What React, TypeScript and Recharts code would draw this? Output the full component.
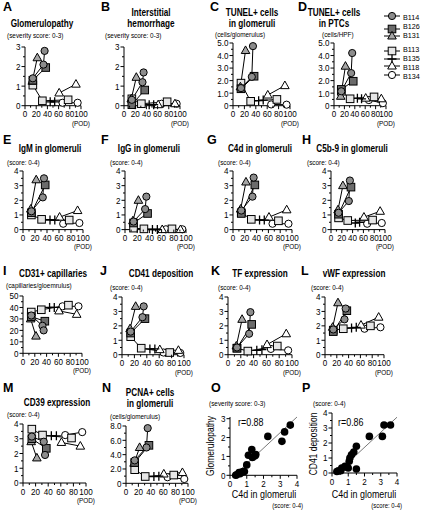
import React from 'react';
import { LineChart, Line, XAxis, YAxis, ComposedChart, Scatter } from 'recharts';

const FONT = 'Arial, "Liberation Sans", Helvetica, sans-serif';

// ---------- animals / legend ----------
const animals = ['B114', 'B126', 'B131', 'B113', 'B135', 'B118', 'B134'];
const shapes = ['circle', 'square', 'triangle', 'square', 'plus', 'triangle', 'circle'];
const fills = ['#8c8c8c', '#6b6b6b', '#a6a6a6', '#e6e6e6', '#000000', '#ffffff', '#ffffff'];

// ---------- biopsy days (POD) per animal ----------
const podB114 = [14, 33, 35];
const podB126 = [14, 37];
const podB131 = [13, 22];
const podB113 = [14, 31, 77];
const podB135 = [45, 53];
const podB118 = [61, 91];
const podB134 = [67, 94];
const pods = [podB114, podB126, podB131, podB113, podB135, podB118, podB134];

// ---------- panel values (animal order as above) ----------
const glomerulopathy = [[1.4, 2.1, 2.8], [1.3, 1.95], [1.25, 2.45], [1.05, 0.25, 0.3], [0.2, 0.2], [0.65, 1.1], [0.15, 0.15]];
const hemorrhage = [[0.3, 1.2, 1.7], [0.05, 0.8], [0.35, 1.45], [0.35, 0.1, 0.2], [0.05, 0.05], [0.05, 0.1], [0.1, 0.1]];
const tunelGlom = [[1.4, 2.3, 4.75], [1.35, 2.35], [1.5, 4.4], [1.8, 0.35, 0.5], [0.4, 0.45], [0.85, 1.6], [0.1, 0.08]];
const tunelPTC = [[1.15, 2.6, 4.2], [1.3, 1.95], [0.75, 3.15], [1.15, 0.55, 0.7], [0.6, 0.55], [0.6, 0.55], [0.45, 0.2]];
const igm = [[1.25, 2.2, 3.5], [1.15, 3.05], [1.4, 3.4], [1.0, 0.7, 0.65], [0.65, 0.65], [0.85, 1.3], [0.4, 0.45]];
const igg = [[0.55, 1.4, 2.25], [0.45, 1.1], [0.6, 2.0], [0.1, 0.05, 0.05], [0.0, 0.0], [0.0, 0.0], [0.02, 0.02]];
const c4d = [[1.3, 2.25, 3.55], [1.1, 3.05], [1.4, 3.25], [1.15, 0.7, 0.6], [0.65, 0.65], [0.85, 1.35], [0.4, 0.4]];
const c5b9 = [[1.15, 1.95, 3.35], [1.05, 2.9], [1.35, 3.0], [0.8, 0.62, 0.65], [0.45, 0.5], [0.85, 1.25], [0.4, 0.45]];
const cd31 = [[33, 24, 20], [32, 28], [30, 15], [36, 38, 42], [40, 40], [37, 34], [41, 41]];
const cd41 = [[1.6, 2.6, 3.35], [1.5, 2.5], [1.8, 3.35], [1.25, 0.45, 0.15], [0.4, 0.4], [0.35, 0.3], [0.15, 0.12]];
const tf = [[0.5, 1.45, 2.95], [0.45, 2.1], [0.6, 2.45], [0.45, 0.25, 0.6], [0.3, 0.35], [0.7, 1.45], [0.4, 0.3]];
const vwf = [[1.75, 2.45, 3.2], [1.6, 3.05], [1.9, 3.6], [1.7, 1.8, 2.0], [1.85, 1.9], [2.05, 2.6], [1.8, 1.9]];
const cd39 = [[3.15, 2.8, 1.9], [3.0, 2.35], [2.8, 1.7], [3.65, 3.25, 3.05], [3.2, 3.2], [2.75, 2.5], [3.25, 3.45]];
const pcna = [[3.2, 5.0, 7.7], [2.9, 5.3], [2.8, 5.0], [1.9, 0.95, 1.15], [0.95, 1.0], [1.3, 1.5], [0.85, 0.6]];

// ---------- correlation panels ----------
const c4dO = [3.6, 3.26, 3.1, 2.26, 1.3, 1.1, 1.5, 1.34, 1.54, 1.0, 0.8, 0.7, 0.54, 0.4, 0.34, 0.6, 0.86];
const glomO = [2.66, 2.3, 1.8, 2.06, 1.37, 1.06, 1.03, 0.94, 1.1, 0.55, 0.2, 0.17, 0.14, 0.03, 0.0, 0.08, 0.2];
const c4dP = [3.6, 3.2, 3.1, 2.3, 1.5, 1.34, 1.2, 1.1, 1.06, 1.5, 1.0, 0.8, 0.6, 0.4, 0.3, 0.54, 0.9];
const cd41P = [3.2, 3.2, 2.44, 2.44, 1.78, 1.4, 1.22, 1.0, 0.78, 0.27, 0.33, 0.44, 0.33, 0.15, 0.1, 0.15, 0.4];
const regO = [0.826, -0.215]; // slope, intercept
const regP = [1.005, -0.3];

// ---------- helpers ----------
const range = (a: number, b: number, s: number) => {
  const out: number[] = [];
  for (let v = a; v <= b + 1e-9; v += s) out.push(Math.round(v * 1000) / 1000);
  return out;
};
const isMult = (v: number, s: number) => Math.abs(v / s - Math.round(v / s)) < 1e-6;

function T({ x, y, children, size = 9, weight = 'normal', anchor = 'start', sx = 0.82, rot = 0 }: any) {
  return (
    <text
      transform={`translate(${x},${y})${rot ? ` rotate(${rot})` : ''} scale(${sx},1)`}
      fontSize={size}
      fontWeight={weight}
      textAnchor={anchor}
      fontFamily={FONT}
      fill="#000"
    >
      {children}
    </text>
  );
}

function Glyph({ shape, fill, cx, cy }: any) {
  if (cx == null || cy == null) return null;
  if (shape === 'circle') return <circle cx={cx} cy={cy} r={3.6} fill={fill} stroke="#000" strokeWidth={1} />;
  if (shape === 'square') return <rect x={cx - 3.8} y={cy - 3.8} width={7.6} height={7.6} fill={fill} stroke="#000" strokeWidth={1} />;
  if (shape === 'triangle')
    return <polygon points={`${cx},${cy - 4.6} ${cx + 4.3},${cy + 3} ${cx - 4.3},${cy + 3}`} fill={fill} stroke="#000" strokeWidth={1} />;
  return <path d={`M${cx - 4.5},${cy}H${cx + 4.5}M${cx},${cy - 4.5}V${cy + 4.5}`} stroke="#000" strokeWidth={1.3} fill="none" />;
}

const xTick = (every: number, fmt: (v: number) => string) => (p: any) => {
  const v = p.payload.value;
  const major = isMult(v, every);
  return (
    <g key={`xt-${v}`}>
      <line x1={p.x} x2={p.x} y1={p.y} y2={p.y + (major ? 3.5 : 2)} stroke="#000" strokeWidth={1} />
      {major && (
        <T x={p.x} y={p.y + 11.5} size={9.5} anchor="middle" sx={0.85}>
          {fmt(v)}
        </T>
      )}
    </g>
  );
};
const yTick = (every: number, fmt: (v: number) => string) => (p: any) => {
  const v = p.payload.value;
  const major = isMult(v, every);
  return (
    <g key={`yt-${v}`}>
      <line x1={p.x} x2={p.x - (major ? 3.5 : 2)} y1={p.y} y2={p.y} stroke="#000" strokeWidth={1} />
      {major && (
        <T x={p.x - 4.5} y={p.y + 3.4} size={9.5} anchor="end" sx={0.85}>
          {fmt(v)}
        </T>
      )}
    </g>
  );
};

const AX = { stroke: '#000', strokeWidth: 1 };
const YW = 30, MT = 8, MR = 10, XH = 24;

type Lay = { pl: number; pr: number; pt: number; pb: number };

const timePanels: { key: string; values: number[][]; yMax: number; yMajor: number; yMinor: number; dec: number; lay: Lay }[] = [
  { key: 'A', values: glomerulopathy, yMax: 3, yMajor: 1, yMinor: 0.5, dec: 0, lay: { pl: 25, pr: 81, pt: 47.3, pb: 106 } },
  { key: 'B', values: hemorrhage, yMax: 3, yMajor: 1, yMinor: 0.5, dec: 0, lay: { pl: 124, pr: 180, pt: 47.3, pb: 106 } },
  { key: 'C', values: tunelGlom, yMax: 5, yMajor: 1, yMinor: 0.5, dec: 1, lay: { pl: 233, pr: 290, pt: 43.3, pb: 106 } },
  { key: 'D', values: tunelPTC, yMax: 5, yMajor: 1, yMinor: 0.5, dec: 1, lay: { pl: 334, pr: 386, pt: 43.3, pb: 106 } },
  { key: 'E', values: igm, yMax: 4, yMajor: 1, yMinor: 0.5, dec: 0, lay: { pl: 23, pr: 83, pt: 170.7, pb: 229.3 } },
  { key: 'F', values: igg, yMax: 4, yMajor: 1, yMinor: 0.5, dec: 0, lay: { pl: 125, pr: 186, pt: 170.7, pb: 229.3 } },
  { key: 'G', values: c4d, yMax: 4, yMajor: 1, yMinor: 0.5, dec: 0, lay: { pl: 233, pr: 292, pt: 170.7, pb: 229.3 } },
  { key: 'H', values: c5b9, yMax: 4, yMajor: 1, yMinor: 0.5, dec: 0, lay: { pl: 331, pr: 385, pt: 170.7, pb: 229.3 } },
  { key: 'I', values: cd31, yMax: 50, yMajor: 10, yMinor: 5, dec: 0, lay: { pl: 23, pr: 82, pt: 296, pb: 353.3 } },
  { key: 'J', values: cd41, yMax: 4, yMajor: 1, yMinor: 0.5, dec: 0, lay: { pl: 122, pr: 184, pt: 297.3, pb: 355 } },
  { key: 'K', values: tf, yMax: 4, yMajor: 1, yMinor: 0.5, dec: 0, lay: { pl: 228, pr: 292, pt: 297.3, pb: 355 } },
  { key: 'L', values: vwf, yMax: 4, yMajor: 1, yMinor: 0.5, dec: 0, lay: { pl: 325, pr: 384, pt: 297.3, pb: 355 } },
  { key: 'M', values: cd39, yMax: 4, yMajor: 1, yMinor: 0.5, dec: 0, lay: { pl: 23, pr: 86, pt: 424.3, pb: 483.3 } },
  { key: 'N', values: pcna, yMax: 8, yMajor: 2, yMinor: 1, dec: 1, lay: { pl: 126, pr: 188, pt: 426, pb: 483.3 } },
];

const drawOrder = [6, 5, 4, 3, 2, 1, 0];

function TimePanel({ values, yMax, yMajor, yMinor, dec, lay }: any) {
  const pw = lay.pr - lay.pl;
  const ph = lay.pb - lay.pt;
  const fmtY = (v: number) => (v === 0 ? '0' : v.toFixed(dec));
  return (
    <div style={{ position: 'absolute', left: lay.pl - YW, top: lay.pt - MT }}>
      <LineChart width={YW + pw + MR} height={MT + ph + XH} margin={{ top: MT, right: MR, bottom: 0, left: 0 }}>
        <XAxis
          type="number"
          dataKey="x"
          domain={[0, 100]}
          ticks={range(0, 100, 10)}
          interval={0}
          height={XH}
          tickSize={0}
          tickMargin={0}
          axisLine={AX}
          tickLine={false}
          tick={xTick(20, (v) => String(v))}
        />
        <YAxis
          type="number"
          domain={[0, yMax]}
          ticks={range(0, yMax, yMinor)}
          interval={0}
          width={YW}
          tickSize={0}
          tickMargin={0}
          axisLine={AX}
          tickLine={false}
          tick={yTick(yMajor, fmtY)}
        />
        {drawOrder.map((i) => (
          <Line
            key={animals[i]}
            data={pods[i].map((x, j) => ({ x, y: values[i][j] }))}
            dataKey="y"
            type="linear"
            stroke="#000"
            strokeWidth={1}
            isAnimationActive={false}
            dot={(p: any) => <Glyph key={`${animals[i]}-${p.index}`} shape={shapes[i]} fill={fills[i]} cx={p.cx} cy={p.cy} />}
            activeDot={false}
          />
        ))}
      </LineChart>
    </div>
  );
}

function ScatterPanel({ xs, ys, reg, yMax, lay }: any) {
  const pw = lay.pr - lay.pl;
  const ph = lay.pb - lay.pt;
  const pts = xs.map((x: number, i: number) => ({ x, y: ys[i] }));
  const x0 = -reg[1] / reg[0];
  const line = [
    { x: x0, y: 0 },
    { x: 4, y: reg[0] * 4 + reg[1] },
  ];
  return (
    <div style={{ position: 'absolute', left: lay.pl - YW, top: lay.pt - MT }}>
      <ComposedChart width={YW + pw + MR} height={MT + ph + XH} margin={{ top: MT, right: MR, bottom: 0, left: 0 }}>
        <XAxis
          type="number"
          dataKey="x"
          domain={[0, 4]}
          ticks={range(0, 4, 0.5)}
          interval={0}
          height={XH}
          tickSize={0}
          tickMargin={0}
          axisLine={AX}
          tickLine={false}
          tick={xTick(1, (v) => String(v))}
        />
        <YAxis
          type="number"
          dataKey="y"
          domain={[0, yMax]}
          ticks={range(0, yMax, 0.5)}
          interval={0}
          width={YW}
          tickSize={0}
          tickMargin={0}
          axisLine={AX}
          tickLine={false}
          tick={yTick(1, (v) => String(v))}
        />
        <Line data={line} dataKey="y" type="linear" stroke="#555" strokeWidth={0.8} dot={false} activeDot={false} isAnimationActive={false} />
        <Scatter
          data={pts}
          fill="#000"
          isAnimationActive={false}
          shape={(p: any) => <circle cx={p.cx} cy={p.cy} r={3.8} fill="#000" />}
        />
      </ComposedChart>
    </div>
  );
}

const oLay = { pl: 230, pr: 297, pt: 416.7, pb: 475 };
const pLay = { pl: 332, pr: 397, pt: 413.3, pb: 473.3 };

const letters = [
  ['A', 3, 11], ['B', 101, 11], ['C', 210, 11], ['D', 298, 11],
  ['E', 3, 144], ['F', 101, 144], ['G', 207, 144], ['H', 302, 144],
  ['I', 3, 275], ['J', 100, 275], ['K', 211, 275], ['L', 301, 275],
  ['M', 3, 392], ['N', 102, 392], ['O', 211, 392], ['P', 302, 392],
];

const titles: [string, number, number][] = [
  ['Glomerulopathy', 42, 27],
  ['Interstitial', 151, 16], ['hemorrhage', 151, 27],
  ['TUNEL+ cells', 252, 16], ['in glomeruli', 252, 27],
  ['TUNEL+ cells', 334, 16], ['in PTCs', 334, 27],
  ['IgM in glomeruli', 50, 152], ['IgG in glomeruli', 149, 152],
  ['C4d in glomeruli', 260, 152], ['C5b-9 in glomeruli', 352, 152],
  ['CD31+ capillaries', 53, 277], ['CD41 deposition', 161, 277],
  ['TF expression', 260, 277], ['vWF expression', 354, 277],
  ['CD39 expression', 57, 406],
  ['PCNA+ cells', 150, 396], ['in glomeruli', 150, 407],
];

const subtitles: [string, number, number][] = [
  ['(severity score: 0-3)', 7, 37.5], ['(severity score: 0-3)', 105, 37.5],
  ['(cells/glomerulus)', 215, 37], ['(cells/HPF)', 322, 37],
  ['(score: 0-4)', 7, 164.5], ['(score: 0-4)', 110, 164.5], ['(score: 0-4)', 218, 164.5], ['(score: 0-4)', 307, 164.5],
  ['(capillaries/gloemrulus)', 6, 288], ['(score: 0-4)', 110, 289.5], ['(score: 0-4)', 218, 289.5], ['(score: 0-4)', 311, 289.5],
  ['(score: 0-4)', 7, 417], ['(cells/glomerulus)', 110, 419],
  ['(severity score: 0-3)', 209, 406], ['(score: 0-4)', 313, 405.5],
];

const legendY = [16, 29, 36, 51, 59, 66, 75];
const legendTextY = [19.5, 29, 38, 52, 61, 70, 79];

export default function App() {
  return (
    <div style={{ position: 'absolute', left: 0, top: 0, width: 430, height: 512, background: '#fff', overflow: 'hidden' }}>
      {timePanels.map((p) => (
        <TimePanel key={p.key} {...p} />
      ))}
      <ScatterPanel xs={c4dO} ys={glomO} reg={regO} yMax={3} lay={oLay} />
      <ScatterPanel xs={c4dP} ys={cd41P} reg={regP} yMax={4} lay={pLay} />
      <svg width={430} height={512} style={{ position: 'absolute', left: 0, top: 0, pointerEvents: 'none' }}>
        {letters.map(([t, x, y]) => (
          <T key={`L${t}`} x={x} y={y} size={12.5} weight="bold" sx={1}>
            {t}
          </T>
        ))}
        {titles.map(([t, x, y], i) => (
          <T key={`T${i}`} x={x} y={y} size={10} weight="bold" anchor="middle" sx={0.82}>
            {t}
          </T>
        ))}
        {subtitles.map(([t, x, y], i) => (
          <T key={`S${i}`} x={x} y={y} size={8} sx={0.8}>
            {t}
          </T>
        ))}
        {timePanels.map((p) => (
          <T key={`P${p.key}`} x={p.lay.pr + 9} y={p.lay.pb + 20} size={8} anchor="end" sx={0.8}>
            (POD)
          </T>
        ))}
        {animals.map((a, i) => (
          <g key={`lg${a}`}>
            <line x1={384} x2={400} y1={legendY[i]} y2={legendY[i]} stroke="#000" strokeWidth={1} />
            <Glyph shape={shapes[i]} fill={fills[i]} cx={392} cy={legendY[i]} />
            <T x={403} y={legendTextY[i]} size={8} sx={0.9}>
              {a}
            </T>
          </g>
        ))}
        <T x={238} y={426} size={10.5} sx={0.85}>r=0.88</T>
        <T x={338} y={426} size={10.5} sx={0.85}>r=0.86</T>
        <T x={214} y={446} size={10} anchor="middle" sx={0.85} rot={-90}>Glomerulopathy</T>
        <T x={317} y={444} size={10} anchor="middle" sx={0.85} rot={-90}>CD41 deposition</T>
        <T x={264} y={498} size={10.5} anchor="middle" sx={0.85}>C4d in glomeruli</T>
        <T x={364} y={498} size={10.5} anchor="middle" sx={0.85}>C4d in glomeruli</T>
        <T x={303} y={508} size={7.5} anchor="end" sx={0.8}>(score: 0-4)</T>
        <T x={402} y={508} size={7.5} anchor="end" sx={0.8}>(score: 0-4)</T>
      </svg>
    </div>
  );
}
